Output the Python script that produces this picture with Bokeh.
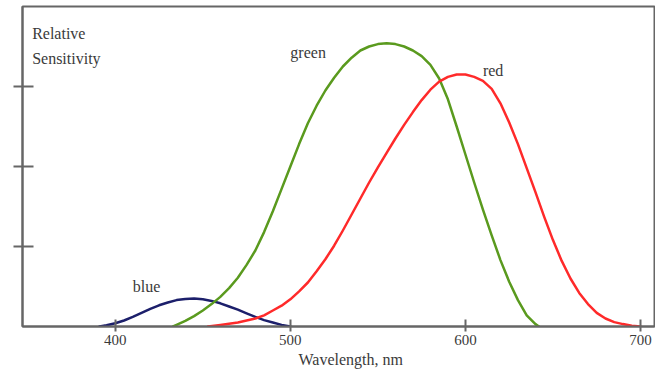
from bokeh.plotting import figure
from bokeh.models import FixedTicker, Label, Range1d, Title
from bokeh.embed import file_html
from bokeh.resources import INLINE

# Data
blue_wl = [391, 395, 400, 405, 410, 415, 420, 425, 430, 435, 440, 445, 450, 455, 460,
           465, 470, 475, 480, 485, 490, 495, 500]
blue_val = [0.0, 0.015, 0.04, 0.075, 0.12, 0.17, 0.22, 0.265, 0.30, 0.33, 0.345, 0.35, 0.34,
            0.32, 0.29, 0.25, 0.21, 0.165, 0.12, 0.08, 0.05, 0.02, 0.0]

green_wl = [433, 435, 440, 445, 450, 455, 460, 465, 470, 475, 480, 485, 490, 495, 500, 505,
            510, 515, 520, 525, 530, 535, 540, 545, 550, 555, 560, 565, 570, 575, 580, 585,
            590, 595, 600, 605, 610, 615, 620, 625, 630, 635, 640, 642]
green_val = [0.0, 0.02, 0.07, 0.13, 0.2, 0.28, 0.37, 0.48, 0.61, 0.77, 0.95, 1.18, 1.44, 1.72,
             2.0, 2.28, 2.54, 2.76, 2.95, 3.11, 3.25, 3.36, 3.45, 3.5, 3.53, 3.54, 3.53, 3.5,
             3.45, 3.38, 3.27, 3.1, 2.84, 2.5, 2.15, 1.8, 1.46, 1.14, 0.83, 0.56, 0.33, 0.14,
             0.03, 0.0]

red_wl = [453, 460, 465, 470, 475, 480, 485, 490, 495, 500, 505, 510, 515, 520, 525, 530,
          535, 540, 545, 550, 555, 560, 565, 570, 575, 580, 585, 590, 595, 600, 605, 610,
          615, 620, 625, 630, 635, 640, 645, 650, 655, 660, 665, 670, 675, 680, 685, 690,
          695, 700]
red_val = [0.0, 0.02, 0.035, 0.05, 0.075, 0.1, 0.14, 0.2, 0.26, 0.34, 0.44, 0.55, 0.69, 0.84,
           1.01, 1.2, 1.4, 1.6, 1.8, 1.99, 2.17, 2.35, 2.52, 2.68, 2.83, 2.96, 3.06, 3.12,
           3.15, 3.15, 3.12, 3.07, 2.97, 2.79, 2.55, 2.28, 1.98, 1.68, 1.37, 1.08, 0.82, 0.6,
           0.42, 0.28, 0.17, 0.1, 0.055, 0.03, 0.01, 0.0]

x_ticks = [400, 500, 600, 700]
y_ticks = [1, 2, 3]

FONT = "Liberation Serif"
TXT = "#3a3a3a"
AX = "#666666"

p = figure(width=655, height=372, output_backend="svg", toolbar_location=None,
           x_range=Range1d(347, 708), y_range=Range1d(0, 4.0),
           min_border_left=22, min_border_right=1, min_border_top=6, min_border_bottom=46)

p.grid.visible = False
p.background_fill_color = "white"
p.border_fill_color = "white"
p.outline_line_color = AX
p.outline_line_width = 2

for wl, val, col in [(blue_wl, blue_val, "#1c1f6b"),
                     (green_wl, green_val, "#5a9a1e"),
                     (red_wl, red_val, "#ff2a2a")]:
    p.line(wl, val, line_color=col, line_width=2.5, line_join="round", line_cap="round")

xa = p.xaxis[0]
xa.ticker = FixedTicker(ticks=x_ticks)
xa.axis_line_color = AX
xa.axis_line_width = 2
xa.major_tick_line_color = AX
xa.major_tick_line_width = 2
xa.major_tick_in = 7
xa.major_tick_out = 5
xa.minor_tick_line_color = None
xa.major_label_text_font = FONT
xa.major_label_text_font_size = "15px"
xa.major_label_text_color = TXT
xa.major_label_standoff = 3

ya = p.yaxis[0]
ya.ticker = FixedTicker(ticks=y_ticks)
ya.axis_line_color = AX
ya.axis_line_width = 2
ya.major_tick_line_color = AX
ya.major_tick_line_width = 2
ya.major_tick_in = 11
ya.major_tick_out = 9
ya.minor_tick_line_color = None
ya.major_label_overrides = {t: "" for t in y_ticks}
ya.major_label_standoff = 0

def lab(x, y, t, align="left"):
    p.add_layout(Label(x=x, y=y, text=t, text_font=FONT, text_font_size="16px",
                       text_color=TXT, text_align=align, text_baseline="middle"))

lab(352.5, 3.66, "Relative")
lab(352.5, 3.35, "Sensitivity")
lab(500, 3.43, "green")
lab(610, 3.2, "red")
lab(410, 0.5, "blue")

p.add_layout(Title(text="Wavelength, nm", align="left", offset=276, text_font=FONT,
                   text_font_size="16px", text_font_style="normal", text_color=TXT,
                   standoff=3), "below")

open("out.html", "w").write(file_html(p, INLINE))
